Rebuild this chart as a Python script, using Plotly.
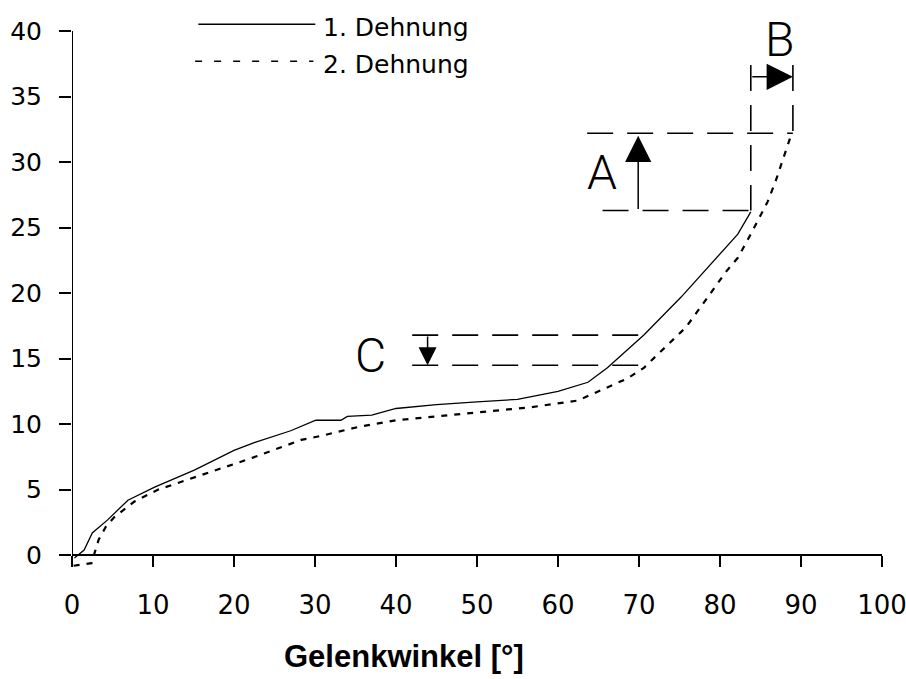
import plotly.graph_objects as go

# ---- data ----
angle_1 = [0.3, 1.5, 2.5, 4.4, 6.9, 10.2, 15.1, 20.0, 22.5, 27.0, 30.1, 33.2, 34.0, 37.0,
           40.0, 45.0, 50.0, 55.0, 60.0, 63.7, 66.1, 70.6, 75.2, 79.3, 82.2, 83.8]
torque_1 = [-0.2, 0.4, 1.7, 2.7, 4.2, 5.2, 6.5, 8.0, 8.6, 9.5, 10.3, 10.3, 10.6, 10.7,
            11.2, 11.5, 11.7, 11.9, 12.5, 13.2, 14.3, 16.8, 19.7, 22.5, 24.5, 26.2]

angle_2 = [0.2, 2.4, 3.3, 4.2, 5.2, 7.7, 10.6, 15.9, 22.1, 28.3, 30.7, 35.4, 40.0, 45.0,
           51.7, 56.7, 62.4, 68.6, 70.6, 75.8, 78.5, 80.7, 82.2, 83.8, 85.9, 86.9, 88.8]
torque_2 = [-0.8, -0.6, 1.2, 2.2, 2.9, 4.1, 5.0, 6.1, 7.4, 8.8, 9.1, 9.8, 10.3, 10.6,
            11.0, 11.3, 11.8, 13.5, 14.3, 17.4, 19.7, 21.6, 22.7, 24.5, 27.0, 28.6, 32.1]

series_names = ["1. Dehnung", "2. Dehnung"]
x_ticks = [0, 10, 20, 30, 40, 50, 60, 70, 80, 90, 100]
y_ticks = [0, 5, 10, 15, 20, 25, 30, 35, 40]
x_title = "Gelenkwinkel [°]"

# annotation values (A: torque gain, B: angle gain, C: torque shift)
a_low, a_high = 26.3, 32.2
b_left, b_right = 83.8, 89.0
c_high, c_low = 16.8, 14.5

Y_MIN, Y_MAX = -1.2, 40

fig = go.Figure()
fig.add_trace(go.Scatter(x=angle_1, y=torque_1, mode="lines", name=series_names[0],
                         line=dict(color="black", width=1.3)))
fig.add_trace(go.Scatter(x=angle_2, y=torque_2, mode="lines", name=series_names[1],
                         line=dict(color="black", width=2.2, dash="6px,7px")))

DASH = "26px,14px"
dl = dict(color="black", width=1.6, dash=DASH)
shapes = [
    # y axis line from 0 to 40
    dict(type="line", xref="x", yref="y", x0=0, x1=0, y0=0, y1=40,
         line=dict(color="black", width=2)),
    # A box
    dict(type="line", xref="x", yref="y", x0=63.6, x1=b_right, y0=a_high, y1=a_high, line=dl),
    dict(type="line", xref="x", yref="y", x0=65.5, x1=b_left, y0=a_low, y1=a_low, line=dl),
    dict(type="line", xref="x", yref="y", x0=b_left, x1=b_left, y0=37.4, y1=a_low, line=dl),
    dict(type="line", xref="x", yref="y", x0=b_right, x1=b_right, y0=37.4, y1=a_high, line=dl),
    # C lines
    dict(type="line", xref="x", yref="y", x0=42.0, x1=70.5, y0=c_high, y1=c_high, line=dl),
    dict(type="line", xref="x", yref="y", x0=42.0, x1=70.8, y0=c_low, y1=c_low, line=dl),
    # manual legend samples
    dict(type="line", xref="paper", yref="paper", x0=0.156, x1=0.3004, y0=1.0124, y1=1.0124,
         line=dict(color="black", width=1.6)),
    dict(type="line", xref="paper", yref="paper", x0=0.152, x1=0.298, y0=0.944, y1=0.944,
         line=dict(color="black", width=1.6, dash="7px,12px")),
]

letter_font = dict(family="Roboto, Liberation Sans, sans-serif", size=48, color="black", weight=300)
legend_font = dict(family="DejaVu Sans", size=25, color="black")
annotations = [
    dict(x=0.3077, y=1.0068, xref="paper", yref="paper", text=series_names[0], showarrow=False,
         xanchor="left", yanchor="middle", font=legend_font),
    dict(x=0.3077, y=0.9388, xref="paper", yref="paper", text=series_names[1], showarrow=False,
         xanchor="left", yanchor="middle", font=legend_font),
    dict(x=0.4103, y=-0.1587, xref="paper", yref="paper", text="<b>" + x_title + "</b>",
         showarrow=False, xanchor="center", yanchor="middle",
         font=dict(family="Liberation Sans, Arial, sans-serif", size=31, color="black")),
    dict(x=65.4, y=29.2, xref="x", yref="y", text="A", showarrow=False, font=letter_font),
    dict(x=87.4, y=39.35, xref="x", yref="y", text="B", showarrow=False, font=letter_font),
    dict(x=36.8, y=15.27, xref="x", yref="y", text="C", showarrow=False, font=letter_font),
    # arrows
    dict(x=69.9, y=a_high - 0.2, ax=69.9, ay=a_low, xref="x", yref="y", axref="x", ayref="y",
         text="", showarrow=True, arrowhead=2, arrowsize=3.5, arrowwidth=1.5, arrowcolor="black",
         standoff=0, startstandoff=0),
    dict(x=b_right, y=36.5, ax=b_left, ay=36.5, xref="x", yref="y", axref="x", ayref="y",
         text="", showarrow=True, arrowhead=2, arrowsize=3.5, arrowwidth=1.5, arrowcolor="black",
         standoff=0, startstandoff=0),
    dict(x=43.9, y=c_low, ax=43.9, ay=c_high, xref="x", yref="y", axref="x", ayref="y",
         text="", showarrow=True, arrowhead=2, arrowsize=2.4, arrowwidth=1.5, arrowcolor="black",
         standoff=0, startstandoff=0),
]

fig.update_layout(
    width=906, height=679, autosize=False,
    margin=dict(l=72, r=24, t=31, b=108),
    paper_bgcolor="white", plot_bgcolor="white",
    showlegend=False,
    shapes=shapes, annotations=annotations,
    xaxis=dict(range=[0, 100], anchor="free", position=(0 - Y_MIN) / (Y_MAX - Y_MIN),
               automargin=False, ticklabeloverflow="allow",
               showline=True, linecolor="black", linewidth=2,
               ticks="outside", ticklen=11, tickwidth=2, tickcolor="black",
               tickvals=x_ticks, ticktext=[str(v) for v in x_ticks],
               tickfont=dict(family="DejaVu Sans", size=26, color="black"),
               ticklabelstandoff=16, showgrid=False, zeroline=False),
    yaxis=dict(range=[Y_MIN, Y_MAX], showline=False, automargin=False,
               ticks="outside", ticklen=12, tickwidth=2, tickcolor="black",
               tickvals=y_ticks, ticktext=[str(v) for v in y_ticks],
               tickfont=dict(family="DejaVu Sans", size=25, color="black"),
               ticklabelstandoff=12, showgrid=False, zeroline=False),
)

fig.write_html("out.html", config={"displayModeBar": False},
               post_script="document.body.style.margin='0';document.body.style.overflow='hidden';")
